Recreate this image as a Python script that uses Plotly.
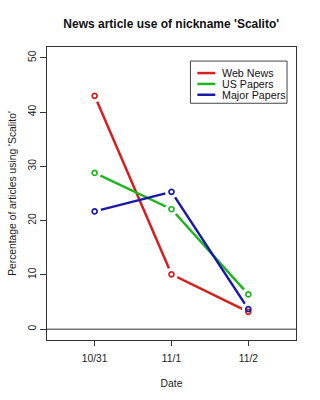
import plotly.graph_objects as go

dates = ["10/31", "11/1", "11/2"]
web_news = [43.0, 10.1, 3.2]
us_papers = [28.8, 22.1, 6.4]
major_papers = [21.7, 25.3, 3.7]
series_names = ["Web News", "US Papers", "Major Papers"]
series_values = [web_news, us_papers, major_papers]
colors = ["#d42020", "#1fb51f", "#1a1aa8"]
y_ticks = [0, 10, 20, 30, 40, 50]

FONT = "Liberation Sans, Arial, sans-serif"
FS = 10.3
fig = go.Figure()

# lines
for name, vals, c in zip(series_names, series_values, colors):
    fig.add_trace(go.Scatter(x=dates, y=vals, mode="lines", name=name,
                             line=dict(color=c, width=2.5), showlegend=False,
                             hoverinfo="skip"))
# white masks to mimic R type="b" gaps
for name, vals in zip(series_names, series_values):
    fig.add_trace(go.Scatter(x=dates, y=vals, mode="markers", showlegend=False,
                             marker=dict(color="white", size=13, line=dict(width=0)),
                             hoverinfo="skip"))
# open circle points
for name, vals, c in zip(series_names, series_values, colors):
    fig.add_trace(go.Scatter(x=dates, y=vals, mode="markers", name=name, showlegend=False,
                             marker=dict(symbol="circle-open", color=c, size=5,
                                         line=dict(width=1.7, color=c))))

# horizontal reference line at 0
fig.add_shape(type="line", xref="paper", x0=0, x1=1, yref="y", y0=0, y1=0,
              line=dict(color="#333333", width=1))

# manual legend (R-style box)
lx0, lx1, ly0, ly1 = 0.576, 0.964, 0.808, 0.952
fig.add_shape(type="rect", xref="paper", yref="paper", x0=lx0, x1=lx1, y0=ly0, y1=ly1,
              line=dict(color="#444444", width=1), fillcolor="white")
row_y = [0.911, 0.874, 0.837]
for name, c, yy in zip(series_names, colors, row_y):
    fig.add_shape(type="line", xref="paper", yref="paper", x0=0.604, x1=0.676, y0=yy, y1=yy,
                  line=dict(color=c, width=2.5))
    fig.add_annotation(xref="paper", yref="paper", x=0.695, y=yy, text=name,
                       showarrow=False, xanchor="left", yanchor="middle",
                       font=dict(family=FONT, size=FS + 0.4, color="#111111"))

fig.update_layout(
    width=320, height=400,
    margin=dict(l=46, r=24, t=47, b=58),
    paper_bgcolor="white", plot_bgcolor="white",
    title=dict(text="<b>News article use of nickname 'Scalito'</b>", x=0.535, xanchor="center",
               y=0.94, yanchor="middle", font=dict(family=FONT, size=12, color="#111111")),
    font=dict(family=FONT, size=FS, color="#222222"),
)
fig.update_xaxes(type="category", range=[-0.62, 2.62], showgrid=False, zeroline=False,
                 showline=True, mirror=True, linecolor="#333333", linewidth=1,
                 ticks="outside", ticklen=5, tickcolor="#333333", ticklabelstandoff=4,
                 tickfont=dict(family=FONT, size=FS, color="#222222"),
                 title=dict(text="Date", font=dict(family=FONT, size=FS, color="#222222"), standoff=16))
fig.update_yaxes(range=[-2, 52], tickvals=y_ticks, showgrid=False, zeroline=False,
                 showline=True, mirror=True, linecolor="#333333", linewidth=1,
                 ticks="outside", ticklen=6, tickcolor="#333333", tickangle=-90,
                 tickfont=dict(family=FONT, size=FS, color="#222222"),
                 title=dict(text="Percentage of articles using 'Scalito'",
                            font=dict(family=FONT, size=FS, color="#222222"), standoff=8))

fig.write_html("out.html")
